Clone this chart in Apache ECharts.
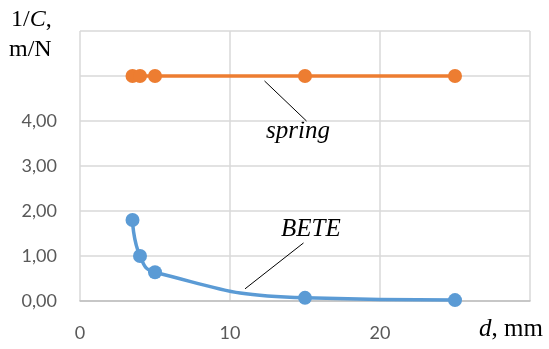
<!DOCTYPE html>
<html><head><meta charset="utf-8">
<script src="https://cdn.jsdelivr.net/npm/echarts@6/dist/echarts.min.js"></script>
<style>html,body{margin:0;padding:0;background:#fff}#c{width:549px;height:349px}</style>
</head><body><div id="c"></div>
<script>
const dValues = [3.5, 4, 5, 15, 25];
const beteValues = [1.8, 1.0, 0.64, 0.07, 0.02];
const springValues = [5.0, 5.0, 5.0, 5.0, 5.0];
const xTicks = [0, 10, 20];
const yTicks = [0, 1, 2, 3, 4];
const springLeader = [[12.3, 4.89], [15.1, 4.0]];
const beteLeader = [[14.9, 1.29], [11.0, 0.27]];

const chart = echarts.init(document.getElementById('c'));
const serif = '"Liberation Serif", "DejaVu Serif", serif';
const sans = 'Lato, "Open Sans", sans-serif';
chart.setOption({
  animation: false,
  grid: {left: 80, right: 19, top: 31, bottom: 48, containLabel: false},
  xAxis: {
    type: 'value', min: 0, max: 30, interval: 10,
    axisLine: {show: true, lineStyle: {color: '#bfbfbf', width: 1.5}},
    axisTick: {show: false},
    splitLine: {show: true, lineStyle: {color: '#d9d9d9', width: 1.5}},
    axisLabel: {color: '#595959', fontFamily: sans, fontSize: 18, margin: 23,
      formatter: v => xTicks.includes(v) ? String(v) : ''}
  },
  yAxis: {
    type: 'value', min: 0, max: 6, interval: 1,
    axisLine: {show: false},
    axisTick: {show: false},
    splitLine: {show: true, lineStyle: {color: '#d9d9d9', width: 1.5}},
    axisLabel: {color: '#595959', fontFamily: sans, fontSize: 18, margin: 23,
      formatter: v => yTicks.includes(v) ? v.toFixed(2).replace('.', ',') : ''}
  },
  series: [
    {
      type: 'line', data: dValues.map((d, i) => [d, beteValues[i]]),
      smooth: 0.5, symbol: 'circle', symbolSize: 14,
      lineStyle: {color: '#5B9BD5', width: 3.5}, itemStyle: {color: '#5B9BD5'},
      markLine: {silent: true, symbol: 'none', label: {show: false},
        lineStyle: {color: '#000', width: 1, type: 'solid'},
        data: [[{coord: beteLeader[0]}, {coord: beteLeader[1]}]]}
    },
    {
      type: 'line', data: dValues.map((d, i) => [d, springValues[i]]),
      symbol: 'circle', symbolSize: 14,
      lineStyle: {color: '#ED7D31', width: 3.5}, itemStyle: {color: '#ED7D31'},
      markLine: {silent: true, symbol: 'none', label: {show: false},
        lineStyle: {color: '#000', width: 1, type: 'solid'},
        data: [[{coord: springLeader[0]}, {coord: springLeader[1]}]]}
    }
  ],
  graphic: [
    {type: 'text', left: 11, top: 8, style: {text: '1/{i|C},', fontFamily: serif, fontSize: 24, fill: '#000',
      rich: {i: {fontStyle: 'italic', fontFamily: serif, fontSize: 24}}}},
    {type: 'text', left: 9, top: 38, style: {text: 'm/N', fontFamily: serif, fontSize: 24, fill: '#000'}},
    {type: 'text', left: 266, top: 119, style: {text: 'spring', fontFamily: serif, fontStyle: 'italic', fontSize: 25, fill: '#000'}},
    {type: 'text', left: 281, top: 217, style: {text: 'BETE', fontFamily: serif, fontStyle: 'italic', fontSize: 25, fill: '#000'}},
    {type: 'text', left: 479, top: 317, style: {text: '{i|d}, mm', fontFamily: serif, fontSize: 25, fill: '#000',
      rich: {i: {fontStyle: 'italic', fontFamily: serif, fontSize: 25}}}}
  ]
});
</script></body></html>
